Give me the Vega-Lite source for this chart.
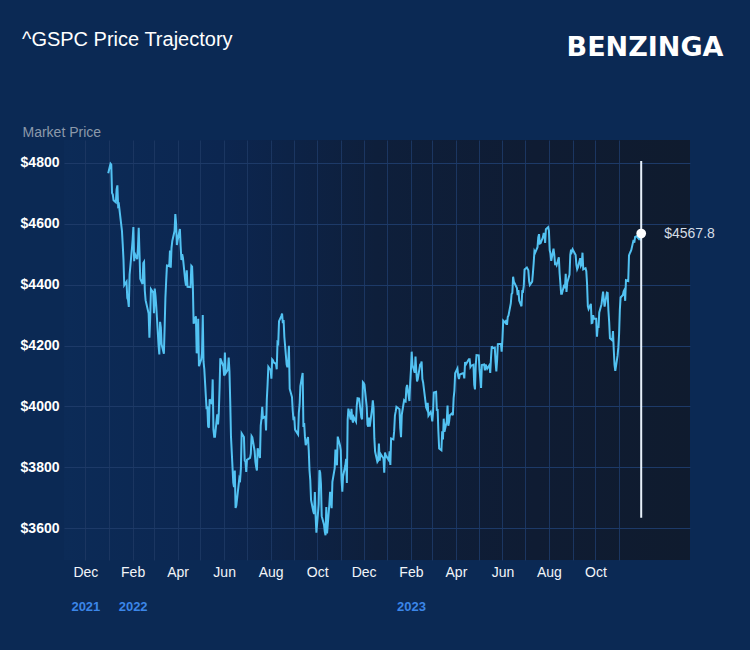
{
  "$schema": "https://vega.github.io/schema/vega-lite/v6.json",
  "width": 626,
  "height": 420,
  "autosize": {"type": "none"},
  "padding": {"left": 64, "top": 140, "right": 60, "bottom": 90},
  "background": "#0b2954",
  "title": {
    "text": "^GSPC Price Trajectory",
    "anchor": "start",
    "frame": "group",
    "font": "Liberation Sans",
    "fontSize": 20,
    "fontWeight": "normal",
    "color": "#ffffff",
    "baseline": "alphabetic",
    "dx": -42,
    "dy": 37
  },
  "config": {
    "view": {"stroke": null},
    "font": "Liberation Sans",
    "axisY": {
      "titleAngle": 0,
      "titleAlign": "left",
      "titleBaseline": "alphabetic",
      "titleX": -42,
      "titleY": -4,
      "titleColor": "#8c99aa",
      "titleFont": "Liberation Sans",
      "titleFontSize": 14,
      "titleFontWeight": "normal",
      "domain": false,
      "ticks": false,
      "grid": true,
      "gridColor": "#1d3a68",
      "gridWidth": 1,
      "labelColor": "#ffffff",
      "labelFont": "Liberation Sans",
      "labelFontSize": 14,
      "labelFontWeight": "bold",
      "labelPadding": 5
    }
  },
  "view": {
    "stroke": null,
    "fill": {
      "gradient": "linear", "x1": 0, "y1": 0, "x2": 1, "y2": 0,
      "stops": [
        {"offset": 0, "color": "#0c2b57"},
        {"offset": 0.25, "color": "#0c2650"},
        {"offset": 0.5, "color": "#0e1f3b"},
        {"offset": 0.75, "color": "#0f1c33"},
        {"offset": 1, "color": "#0f1b2e"}
      ]
    }
  },
  "datasets": {
    "last": [{"d": "2023-11-30", "v": 4567.8, "top": 4806, "bottom": 3635, "label": "$4567.8"}],
    "prices": [
      {"d":"2021-12-31","v":4766},
      {"d":"2022-01-03","v":4797},{"d":"2022-01-04","v":4794},{"d":"2022-01-05","v":4701},{"d":"2022-01-06","v":4696},{"d":"2022-01-07","v":4677},
      {"d":"2022-01-10","v":4670},{"d":"2022-01-11","v":4713},{"d":"2022-01-12","v":4726},{"d":"2022-01-13","v":4659},{"d":"2022-01-14","v":4663},
      {"d":"2022-01-18","v":4577},{"d":"2022-01-19","v":4533},{"d":"2022-01-20","v":4483},{"d":"2022-01-21","v":4398},
      {"d":"2022-01-24","v":4410},{"d":"2022-01-25","v":4356},{"d":"2022-01-26","v":4350},{"d":"2022-01-27","v":4327},{"d":"2022-01-28","v":4432},
      {"d":"2022-01-31","v":4516},{"d":"2022-02-01","v":4547},{"d":"2022-02-02","v":4589},{"d":"2022-02-03","v":4477},{"d":"2022-02-04","v":4501},
      {"d":"2022-02-07","v":4484},{"d":"2022-02-08","v":4522},{"d":"2022-02-09","v":4587},{"d":"2022-02-10","v":4504},{"d":"2022-02-11","v":4419},
      {"d":"2022-02-14","v":4402},{"d":"2022-02-15","v":4471},{"d":"2022-02-16","v":4475},{"d":"2022-02-17","v":4380},{"d":"2022-02-18","v":4349},
      {"d":"2022-02-22","v":4305},{"d":"2022-02-23","v":4226},{"d":"2022-02-24","v":4289},{"d":"2022-02-25","v":4385},
      {"d":"2022-02-28","v":4374},{"d":"2022-03-01","v":4306},{"d":"2022-03-02","v":4387},{"d":"2022-03-03","v":4363},{"d":"2022-03-04","v":4329},
      {"d":"2022-03-07","v":4201},{"d":"2022-03-08","v":4171},{"d":"2022-03-09","v":4278},{"d":"2022-03-10","v":4260},{"d":"2022-03-11","v":4204},
      {"d":"2022-03-14","v":4173},{"d":"2022-03-15","v":4262},{"d":"2022-03-16","v":4358},{"d":"2022-03-17","v":4412},{"d":"2022-03-18","v":4463},
      {"d":"2022-03-21","v":4461},{"d":"2022-03-22","v":4512},{"d":"2022-03-23","v":4456},{"d":"2022-03-24","v":4520},{"d":"2022-03-25","v":4543},
      {"d":"2022-03-28","v":4576},{"d":"2022-03-29","v":4632},{"d":"2022-03-30","v":4602},{"d":"2022-03-31","v":4530},{"d":"2022-04-01","v":4546},
      {"d":"2022-04-04","v":4583},{"d":"2022-04-05","v":4525},{"d":"2022-04-06","v":4481},{"d":"2022-04-07","v":4500},{"d":"2022-04-08","v":4488},
      {"d":"2022-04-11","v":4413},{"d":"2022-04-12","v":4397},{"d":"2022-04-13","v":4447},{"d":"2022-04-14","v":4393},
      {"d":"2022-04-18","v":4392},{"d":"2022-04-19","v":4462},{"d":"2022-04-20","v":4459},{"d":"2022-04-21","v":4394},{"d":"2022-04-22","v":4272},
      {"d":"2022-04-25","v":4296},{"d":"2022-04-26","v":4175},{"d":"2022-04-27","v":4184},{"d":"2022-04-28","v":4288},{"d":"2022-04-29","v":4132},
      {"d":"2022-05-02","v":4155},{"d":"2022-05-03","v":4175},{"d":"2022-05-04","v":4300},{"d":"2022-05-05","v":4147},{"d":"2022-05-06","v":4123},
      {"d":"2022-05-09","v":3991},{"d":"2022-05-10","v":4001},{"d":"2022-05-11","v":3935},{"d":"2022-05-12","v":3930},{"d":"2022-05-13","v":4024},
      {"d":"2022-05-16","v":4008},{"d":"2022-05-17","v":4089},{"d":"2022-05-18","v":3924},{"d":"2022-05-19","v":3901},{"d":"2022-05-20","v":3901},
      {"d":"2022-05-23","v":3974},{"d":"2022-05-24","v":3941},{"d":"2022-05-25","v":3979},{"d":"2022-05-26","v":4058},{"d":"2022-05-27","v":4158},
      {"d":"2022-05-31","v":4132},{"d":"2022-06-01","v":4101},{"d":"2022-06-02","v":4177},{"d":"2022-06-03","v":4109},
      {"d":"2022-06-06","v":4121},{"d":"2022-06-07","v":4161},{"d":"2022-06-08","v":4116},{"d":"2022-06-09","v":4018},{"d":"2022-06-10","v":3901},
      {"d":"2022-06-13","v":3750},{"d":"2022-06-14","v":3735},{"d":"2022-06-15","v":3790},{"d":"2022-06-16","v":3667},{"d":"2022-06-17","v":3675},
      {"d":"2022-06-21","v":3765},{"d":"2022-06-22","v":3760},{"d":"2022-06-23","v":3796},{"d":"2022-06-24","v":3912},
      {"d":"2022-06-27","v":3900},{"d":"2022-06-28","v":3822},{"d":"2022-06-29","v":3819},{"d":"2022-06-30","v":3785},{"d":"2022-07-01","v":3825},
      {"d":"2022-07-05","v":3831},{"d":"2022-07-06","v":3845},{"d":"2022-07-07","v":3903},{"d":"2022-07-08","v":3899},
      {"d":"2022-07-11","v":3854},{"d":"2022-07-12","v":3819},{"d":"2022-07-13","v":3802},{"d":"2022-07-14","v":3790},{"d":"2022-07-15","v":3863},
      {"d":"2022-07-18","v":3831},{"d":"2022-07-19","v":3937},{"d":"2022-07-20","v":3960},{"d":"2022-07-21","v":3999},{"d":"2022-07-22","v":3962},
      {"d":"2022-07-25","v":3967},{"d":"2022-07-26","v":3921},{"d":"2022-07-27","v":4024},{"d":"2022-07-28","v":4072},{"d":"2022-07-29","v":4130},
      {"d":"2022-08-01","v":4119},{"d":"2022-08-02","v":4091},{"d":"2022-08-03","v":4155},{"d":"2022-08-04","v":4152},{"d":"2022-08-05","v":4145},
      {"d":"2022-08-08","v":4140},{"d":"2022-08-09","v":4122},{"d":"2022-08-10","v":4210},{"d":"2022-08-11","v":4207},{"d":"2022-08-12","v":4280},
      {"d":"2022-08-15","v":4297},{"d":"2022-08-16","v":4305},{"d":"2022-08-17","v":4274},{"d":"2022-08-18","v":4284},{"d":"2022-08-19","v":4228},
      {"d":"2022-08-22","v":4138},{"d":"2022-08-23","v":4129},{"d":"2022-08-24","v":4141},{"d":"2022-08-25","v":4199},{"d":"2022-08-26","v":4058},
      {"d":"2022-08-29","v":4031},{"d":"2022-08-30","v":3986},{"d":"2022-08-31","v":3955},{"d":"2022-09-01","v":3967},{"d":"2022-09-02","v":3924},
      {"d":"2022-09-06","v":3908},{"d":"2022-09-07","v":3980},{"d":"2022-09-08","v":4006},{"d":"2022-09-09","v":4067},
      {"d":"2022-09-12","v":4110},{"d":"2022-09-13","v":3933},{"d":"2022-09-14","v":3946},{"d":"2022-09-15","v":3901},{"d":"2022-09-16","v":3873},
      {"d":"2022-09-19","v":3900},{"d":"2022-09-20","v":3856},{"d":"2022-09-21","v":3790},{"d":"2022-09-22","v":3758},{"d":"2022-09-23","v":3693},
      {"d":"2022-09-26","v":3655},{"d":"2022-09-27","v":3647},{"d":"2022-09-28","v":3719},{"d":"2022-09-29","v":3640},{"d":"2022-09-30","v":3586},
      {"d":"2022-10-03","v":3678},{"d":"2022-10-04","v":3791},{"d":"2022-10-05","v":3783},{"d":"2022-10-06","v":3745},{"d":"2022-10-07","v":3640},
      {"d":"2022-10-10","v":3612},{"d":"2022-10-11","v":3589},{"d":"2022-10-12","v":3577},{"d":"2022-10-13","v":3670},{"d":"2022-10-14","v":3583},
      {"d":"2022-10-17","v":3678},{"d":"2022-10-18","v":3720},{"d":"2022-10-19","v":3695},{"d":"2022-10-20","v":3666},{"d":"2022-10-21","v":3753},
      {"d":"2022-10-24","v":3797},{"d":"2022-10-25","v":3859},{"d":"2022-10-26","v":3831},{"d":"2022-10-27","v":3807},{"d":"2022-10-28","v":3901},
      {"d":"2022-10-31","v":3872},{"d":"2022-11-01","v":3856},{"d":"2022-11-02","v":3760},{"d":"2022-11-03","v":3720},{"d":"2022-11-04","v":3771},
      {"d":"2022-11-07","v":3807},{"d":"2022-11-08","v":3828},{"d":"2022-11-09","v":3749},{"d":"2022-11-10","v":3956},{"d":"2022-11-11","v":3993},
      {"d":"2022-11-14","v":3957},{"d":"2022-11-15","v":3992},{"d":"2022-11-16","v":3959},{"d":"2022-11-17","v":3947},{"d":"2022-11-18","v":3965},
      {"d":"2022-11-21","v":3950},{"d":"2022-11-22","v":4004},{"d":"2022-11-23","v":4027},{"d":"2022-11-25","v":4026},
      {"d":"2022-11-28","v":3964},{"d":"2022-11-29","v":3958},{"d":"2022-11-30","v":4080},{"d":"2022-12-01","v":4077},{"d":"2022-12-02","v":4072},
      {"d":"2022-12-05","v":3999},{"d":"2022-12-06","v":3941},{"d":"2022-12-07","v":3934},{"d":"2022-12-08","v":3964},{"d":"2022-12-09","v":3934},
      {"d":"2022-12-12","v":3991},{"d":"2022-12-13","v":4020},{"d":"2022-12-14","v":3995},{"d":"2022-12-15","v":3896},{"d":"2022-12-16","v":3852},
      {"d":"2022-12-19","v":3818},{"d":"2022-12-20","v":3822},{"d":"2022-12-21","v":3878},{"d":"2022-12-22","v":3822},{"d":"2022-12-23","v":3845},
      {"d":"2022-12-27","v":3829},{"d":"2022-12-28","v":3783},{"d":"2022-12-29","v":3849},{"d":"2022-12-30","v":3840},
      {"d":"2023-01-03","v":3824},{"d":"2023-01-04","v":3853},{"d":"2023-01-05","v":3808},{"d":"2023-01-06","v":3895},
      {"d":"2023-01-09","v":3892},{"d":"2023-01-10","v":3919},{"d":"2023-01-11","v":3970},{"d":"2023-01-12","v":3983},{"d":"2023-01-13","v":3999},
      {"d":"2023-01-17","v":3991},{"d":"2023-01-18","v":3929},{"d":"2023-01-19","v":3899},{"d":"2023-01-20","v":3973},
      {"d":"2023-01-23","v":4020},{"d":"2023-01-24","v":4017},{"d":"2023-01-25","v":4016},{"d":"2023-01-26","v":4060},{"d":"2023-01-27","v":4071},
      {"d":"2023-01-30","v":4018},{"d":"2023-01-31","v":4077},{"d":"2023-02-01","v":4119},{"d":"2023-02-02","v":4180},{"d":"2023-02-03","v":4136},
      {"d":"2023-02-06","v":4111},{"d":"2023-02-07","v":4164},{"d":"2023-02-08","v":4118},{"d":"2023-02-09","v":4082},{"d":"2023-02-10","v":4090},
      {"d":"2023-02-13","v":4137},{"d":"2023-02-14","v":4136},{"d":"2023-02-15","v":4148},{"d":"2023-02-16","v":4090},{"d":"2023-02-17","v":4079},
      {"d":"2023-02-21","v":3997},{"d":"2023-02-22","v":3991},{"d":"2023-02-23","v":4012},{"d":"2023-02-24","v":3970},
      {"d":"2023-02-27","v":3982},{"d":"2023-02-28","v":3970},{"d":"2023-03-01","v":3951},{"d":"2023-03-02","v":3981},{"d":"2023-03-03","v":4046},
      {"d":"2023-03-06","v":4048},{"d":"2023-03-07","v":3986},{"d":"2023-03-08","v":3992},{"d":"2023-03-09","v":3918},{"d":"2023-03-10","v":3862},
      {"d":"2023-03-13","v":3856},{"d":"2023-03-14","v":3919},{"d":"2023-03-15","v":3892},{"d":"2023-03-16","v":3960},{"d":"2023-03-17","v":3917},
      {"d":"2023-03-20","v":3952},{"d":"2023-03-21","v":4003},{"d":"2023-03-22","v":3937},{"d":"2023-03-23","v":3949},{"d":"2023-03-24","v":3971},
      {"d":"2023-03-27","v":3978},{"d":"2023-03-28","v":3971},{"d":"2023-03-29","v":4028},{"d":"2023-03-30","v":4051},{"d":"2023-03-31","v":4109},
      {"d":"2023-04-03","v":4125},{"d":"2023-04-04","v":4101},{"d":"2023-04-05","v":4090},{"d":"2023-04-06","v":4105},
      {"d":"2023-04-10","v":4109},{"d":"2023-04-11","v":4109},{"d":"2023-04-12","v":4092},{"d":"2023-04-13","v":4146},{"d":"2023-04-14","v":4138},
      {"d":"2023-04-17","v":4151},{"d":"2023-04-18","v":4155},{"d":"2023-04-19","v":4155},{"d":"2023-04-20","v":4130},{"d":"2023-04-21","v":4134},
      {"d":"2023-04-24","v":4137},{"d":"2023-04-25","v":4072},{"d":"2023-04-26","v":4056},{"d":"2023-04-27","v":4135},{"d":"2023-04-28","v":4169},
      {"d":"2023-05-01","v":4168},{"d":"2023-05-02","v":4120},{"d":"2023-05-03","v":4091},{"d":"2023-05-04","v":4061},{"d":"2023-05-05","v":4136},
      {"d":"2023-05-08","v":4138},{"d":"2023-05-09","v":4119},{"d":"2023-05-10","v":4138},{"d":"2023-05-11","v":4131},{"d":"2023-05-12","v":4124},
      {"d":"2023-05-15","v":4136},{"d":"2023-05-16","v":4110},{"d":"2023-05-17","v":4159},{"d":"2023-05-18","v":4198},{"d":"2023-05-19","v":4192},
      {"d":"2023-05-22","v":4193},{"d":"2023-05-23","v":4146},{"d":"2023-05-24","v":4115},{"d":"2023-05-25","v":4151},{"d":"2023-05-26","v":4205},
      {"d":"2023-05-30","v":4206},{"d":"2023-05-31","v":4180},{"d":"2023-06-01","v":4221},{"d":"2023-06-02","v":4282},
      {"d":"2023-06-05","v":4274},{"d":"2023-06-06","v":4284},{"d":"2023-06-07","v":4268},{"d":"2023-06-08","v":4294},{"d":"2023-06-09","v":4299},
      {"d":"2023-06-12","v":4339},{"d":"2023-06-13","v":4369},{"d":"2023-06-14","v":4373},{"d":"2023-06-15","v":4426},{"d":"2023-06-16","v":4410},
      {"d":"2023-06-20","v":4389},{"d":"2023-06-21","v":4366},{"d":"2023-06-22","v":4382},{"d":"2023-06-23","v":4348},
      {"d":"2023-06-26","v":4329},{"d":"2023-06-27","v":4378},{"d":"2023-06-28","v":4377},{"d":"2023-06-29","v":4396},{"d":"2023-06-30","v":4450},
      {"d":"2023-07-03","v":4456},{"d":"2023-07-05","v":4447},{"d":"2023-07-06","v":4412},{"d":"2023-07-07","v":4399},
      {"d":"2023-07-10","v":4410},{"d":"2023-07-11","v":4439},{"d":"2023-07-12","v":4472},{"d":"2023-07-13","v":4510},{"d":"2023-07-14","v":4505},
      {"d":"2023-07-17","v":4523},{"d":"2023-07-18","v":4555},{"d":"2023-07-19","v":4566},{"d":"2023-07-20","v":4535},{"d":"2023-07-21","v":4536},
      {"d":"2023-07-24","v":4555},{"d":"2023-07-25","v":4567},{"d":"2023-07-26","v":4567},{"d":"2023-07-27","v":4537},{"d":"2023-07-28","v":4582},
      {"d":"2023-07-31","v":4589},{"d":"2023-08-01","v":4577},{"d":"2023-08-02","v":4513},{"d":"2023-08-03","v":4502},{"d":"2023-08-04","v":4478},
      {"d":"2023-08-07","v":4518},{"d":"2023-08-08","v":4499},{"d":"2023-08-09","v":4468},{"d":"2023-08-10","v":4469},{"d":"2023-08-11","v":4464},
      {"d":"2023-08-14","v":4490},{"d":"2023-08-15","v":4438},{"d":"2023-08-16","v":4404},{"d":"2023-08-17","v":4370},{"d":"2023-08-18","v":4370},
      {"d":"2023-08-21","v":4400},{"d":"2023-08-22","v":4388},{"d":"2023-08-23","v":4436},{"d":"2023-08-24","v":4376},{"d":"2023-08-25","v":4406},
      {"d":"2023-08-28","v":4433},{"d":"2023-08-29","v":4498},{"d":"2023-08-30","v":4515},{"d":"2023-08-31","v":4508},{"d":"2023-09-01","v":4516},
      {"d":"2023-09-05","v":4497},{"d":"2023-09-06","v":4465},{"d":"2023-09-07","v":4451},{"d":"2023-09-08","v":4457},
      {"d":"2023-09-11","v":4487},{"d":"2023-09-12","v":4462},{"d":"2023-09-13","v":4467},{"d":"2023-09-14","v":4505},{"d":"2023-09-15","v":4450},
      {"d":"2023-09-18","v":4454},{"d":"2023-09-19","v":4444},{"d":"2023-09-20","v":4402},{"d":"2023-09-21","v":4330},{"d":"2023-09-22","v":4320},
      {"d":"2023-09-25","v":4337},{"d":"2023-09-26","v":4274},{"d":"2023-09-27","v":4275},{"d":"2023-09-28","v":4300},{"d":"2023-09-29","v":4288},
      {"d":"2023-10-02","v":4288},{"d":"2023-10-03","v":4229},{"d":"2023-10-04","v":4264},{"d":"2023-10-05","v":4258},{"d":"2023-10-06","v":4309},
      {"d":"2023-10-09","v":4336},{"d":"2023-10-10","v":4358},{"d":"2023-10-11","v":4377},{"d":"2023-10-12","v":4350},{"d":"2023-10-13","v":4328},
      {"d":"2023-10-16","v":4374},{"d":"2023-10-17","v":4373},{"d":"2023-10-18","v":4315},{"d":"2023-10-19","v":4278},{"d":"2023-10-20","v":4224},
      {"d":"2023-10-23","v":4217},{"d":"2023-10-24","v":4248},{"d":"2023-10-25","v":4187},{"d":"2023-10-26","v":4137},{"d":"2023-10-27","v":4117},
      {"d":"2023-10-30","v":4167},{"d":"2023-10-31","v":4194},{"d":"2023-11-01","v":4238},{"d":"2023-11-02","v":4318},{"d":"2023-11-03","v":4358},
      {"d":"2023-11-06","v":4366},{"d":"2023-11-07","v":4378},{"d":"2023-11-08","v":4383},{"d":"2023-11-09","v":4347},{"d":"2023-11-10","v":4415},
      {"d":"2023-11-13","v":4412},{"d":"2023-11-14","v":4496},{"d":"2023-11-15","v":4503},{"d":"2023-11-16","v":4508},{"d":"2023-11-17","v":4514},
      {"d":"2023-11-20","v":4547},{"d":"2023-11-21","v":4538},{"d":"2023-11-22","v":4557},{"d":"2023-11-24","v":4559},
      {"d":"2023-11-27","v":4550},{"d":"2023-11-28","v":4555},{"d":"2023-11-29","v":4551},{"d":"2023-11-30","v":4567.8}
    ]
  },
  "resolve": {"axis": {"x": "independent"}},
  "layer": [
    {
      "data": {"name": "prices"},
      "mark": {"type": "line", "color": "#52c2f2", "strokeWidth": 2},
      "encoding": {
        "x": {
          "field": "d", "type": "temporal",
          "scale": {"type": "utc", "domain": [{"year": 2021, "month": 11, "date": 3, "utc": true}, {"year": 2024, "month": 2, "date": 2, "utc": true}]},
          "axis": {
            "orient": "bottom",
            "values": [
              {"year": 2021, "month": 12, "date": 1, "utc": true},
              {"year": 2022, "month": 1, "date": 1, "utc": true},{"year": 2022, "month": 2, "date": 1, "utc": true},{"year": 2022, "month": 3, "date": 1, "utc": true},
              {"year": 2022, "month": 4, "date": 1, "utc": true},{"year": 2022, "month": 5, "date": 1, "utc": true},{"year": 2022, "month": 6, "date": 1, "utc": true},
              {"year": 2022, "month": 7, "date": 1, "utc": true},{"year": 2022, "month": 8, "date": 1, "utc": true},{"year": 2022, "month": 9, "date": 1, "utc": true},
              {"year": 2022, "month": 10, "date": 1, "utc": true},{"year": 2022, "month": 11, "date": 1, "utc": true},{"year": 2022, "month": 12, "date": 1, "utc": true},
              {"year": 2023, "month": 1, "date": 1, "utc": true},{"year": 2023, "month": 2, "date": 1, "utc": true},{"year": 2023, "month": 3, "date": 1, "utc": true},
              {"year": 2023, "month": 4, "date": 1, "utc": true},{"year": 2023, "month": 5, "date": 1, "utc": true},{"year": 2023, "month": 6, "date": 1, "utc": true},
              {"year": 2023, "month": 7, "date": 1, "utc": true},{"year": 2023, "month": 8, "date": 1, "utc": true},{"year": 2023, "month": 9, "date": 1, "utc": true},
              {"year": 2023, "month": 10, "date": 1, "utc": true},{"year": 2023, "month": 11, "date": 1, "utc": true}
            ],
            "labelExpr": "utcmonth(datum.value) % 2 == 1 ? utcFormat(datum.value, '%b') : ''",
            "title": null,
            "domain": false,
            "ticks": false,
            "grid": true,
            "gridColor": "#1b3661",
            "gridWidth": 1,
            "labelColor": "#f2f5f9",
            "labelFont": "Liberation Sans",
            "labelFontSize": 14,
            "labelPadding": 5,
            "labelOverlap": false,
            "labelFlush": false
          }
        },
        "y": {
          "field": "v", "type": "quantitative",
          "scale": {"domain": [3496, 4875], "nice": false, "zero": false},
          "axis": {
            "title": "Market Price",
            "values": [3600, 3800, 4000, 4200, 4400, 4600, 4800],
            "labelExpr": "'$' + datum.value"
          }
        }
      }
    },
    {
      "data": {"name": "last"},
      "mark": {"type": "rule", "color": "#e6f0fa", "strokeWidth": 2},
      "encoding": {
        "x": {
          "field": "d", "type": "temporal",
          "scale": {"type": "utc", "domain": [{"year": 2021, "month": 11, "date": 3, "utc": true}, {"year": 2024, "month": 2, "date": 2, "utc": true}]},
          "axis": {
            "orient": "bottom",
            "values": [
              {"year": 2021, "month": 12, "date": 1, "utc": true},
              {"year": 2022, "month": 2, "date": 1, "utc": true},
              {"year": 2023, "month": 2, "date": 1, "utc": true}
            ],
            "labelExpr": "utcFormat(datum.value, '%Y')",
            "offset": 35,
            "title": null,
            "domain": false,
            "ticks": false,
            "grid": false,
            "labelColor": "#3b86e8",
            "labelFont": "Liberation Sans",
            "labelFontSize": 13,
            "labelFontWeight": "bold",
            "labelPadding": 5,
            "labelOverlap": false,
            "labelFlush": false
          }
        },
        "y": {"field": "top", "type": "quantitative", "scale": {"domain": [3496, 4875], "nice": false, "zero": false}},
        "y2": {"field": "bottom"}
      }
    },
    {
      "data": {"name": "last"},
      "mark": {"type": "point", "filled": true, "color": "#ffffff", "opacity": 1, "size": 95},
      "encoding": {
        "x": {
          "field": "d", "type": "temporal",
          "scale": {"type": "utc", "domain": [{"year": 2021, "month": 11, "date": 3, "utc": true}, {"year": 2024, "month": 2, "date": 2, "utc": true}]},
          "axis": {
            "orient": "top",
            "labels": false,
            "domain": false,
            "ticks": false,
            "grid": false,
            "title": "BENZINGA",
            "titleX": 659,
            "titleY": -85,
            "titleAlign": "right",
            "titleBaseline": "alphabetic",
            "titleAngle": 0,
            "titleFont": "DejaVu Sans",
            "titleFontSize": 27,
            "titleFontWeight": "bold",
            "titleColor": "#ffffff"
          }
        },
        "y": {"field": "v", "type": "quantitative", "scale": {"domain": [3496, 4875], "nice": false, "zero": false}}
      }
    },
    {
      "data": {"name": "last"},
      "mark": {"type": "text", "align": "left", "baseline": "middle", "dx": 23, "font": "Liberation Sans", "fontSize": 14, "color": "#d5dde6"},
      "encoding": {
        "x": {
          "field": "d", "type": "temporal",
          "scale": {"type": "utc", "domain": [{"year": 2021, "month": 11, "date": 3, "utc": true}, {"year": 2024, "month": 2, "date": 2, "utc": true}]},
          "axis": null
        },
        "y": {"field": "v", "type": "quantitative", "scale": {"domain": [3496, 4875], "nice": false, "zero": false}},
        "text": {"field": "label"}
      }
    }
  ]
}
